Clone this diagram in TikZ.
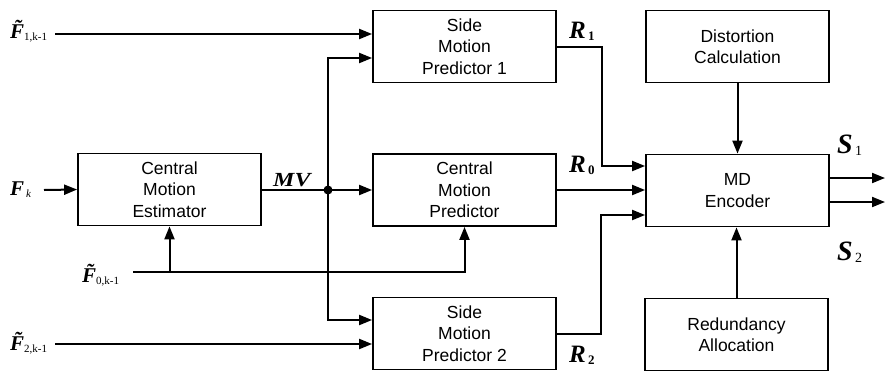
\documentclass[tikz,border=0pt]{standalone}
\usepackage{fontspec}
\setmainfont{Liberation Sans}
\newfontfamily\labfont{Liberation Serif}
\usetikzlibrary{arrows.meta,calc}
\newcommand{\flab}[2]{{\labfont\bfseries\itshape\fontsize{21bp}{21bp}\selectfont #1}\raisebox{-0.5ex}{\labfont\fontsize{11bp}{11bp}\selectfont #2}}
\newcommand{\rlab}[2]{{\labfont\bfseries\itshape\fontsize{25bp}{25bp}\selectfont #1}\raisebox{-0.4ex}{\labfont\bfseries\fontsize{13bp}{13bp}\selectfont #2}}
\newcommand{\slab}[2]{{\labfont\bfseries\itshape\fontsize{28bp}{28bp}\selectfont #1}\raisebox{-0.4ex}{\labfont\fontsize{14bp}{14bp}\selectfont\,#2}}
\begin{document}
\begin{tikzpicture}[x=1bp,y=-1bp,
  blk/.style={draw,line width=1.8bp,minimum width=183bp,minimum height=72bp,inner sep=0pt,align=center,font=\fontsize{17.5bp}{21.5bp}\selectfont},
  arr/.style={line width=2bp,-{Triangle[length=13bp,width=10bp]}},
  ln/.style={line width=2bp},
  lab/.style={inner sep=0pt,anchor=base west},
]
\useasboundingbox[fill=white] (0,0) rectangle (885,372);

% blocks
\node[blk] (side1) at (464.5,46.5) {Side\\Motion\\Predictor 1};
\node[blk] (cpred) at (464.5,190) {Central\\Motion\\Predictor};
\node[blk] (side2) at (464.5,333.5) {Side\\Motion\\Predictor 2};
\node[blk] (cest) at (169.5,189.5) {Central\\Motion\\Estimator};
\node[blk] (dist) at (737.5,46.5) {Distortion\\Calculation};
\node[blk] (mdenc) at (737.5,190.5) {MD\\Encoder};
\node[blk] (red) at (736.5,334.5) {Redundancy\\Allocation};

% free ends
\coordinate (f1) at (55,34);
\coordinate (fk) at (44,190);
\coordinate (f0) at (133,272);
\coordinate (f2) at (55,344);
\coordinate (j) at (328,190);
\coordinate (s1) at (885,178);
\coordinate (s2) at (885,202);

% labels
\node[lab] (lf1) at (10,38) {\flab{\~{F}}{1,k-1}};
\node[lab] (lfk) at (10,195) {\flab{F}{\,\itshape k}};
\node[lab] (lf0) at (82,282) {\flab{\~{F}}{0,k-1}};
\node[lab] (lf2) at (10,350) {\flab{\~{F}}{2,k-1}};
\node[lab,xscale=1.2] (lmv) at (273,186) {{\labfont\bfseries\itshape\fontsize{20bp}{20bp}\selectfont MV}};
\node[lab] (lr1) at (569,38) {\rlab{R}{\,1}};
\node[lab] (lr0) at (569,172) {\rlab{R}{\,0}};
\node[lab] (lr2) at (569,362) {\rlab{R}{\,2}};
\node[lab] (ls1) at (837,153) {\slab{S}{1}};
\node[lab] (ls2) at (837,260) {\slab{S}{2}};

% connectors
\draw[arr] (f1) -- (f1 -| side1.west);
\draw[arr] (fk) -- (cest.west);
\draw[ln] (cest.east |- j) -- (j);
\draw[arr] (j) -- (j -| cpred.west);
\draw[arr] (j) |- ($(side1.west)+(0,11.5)$);
\draw[arr] (j) |- ($(side2.west)+(0,-13.5)$);
\fill (j) circle (4.5bp);
\draw[arr] (f2) -- (f2 -| side2.west);
\draw[arr] (f0) -| (cpred.south);
\draw[arr] (f0 -| cest.south) -- (cest.south);
\draw[arr] (side1.east) -- ++(45,0) |- ($(mdenc.west)+(0,-24.5)$);
\draw[arr] (cpred.east) -- (cpred.east -| mdenc.west);
\draw[arr] (side2.east) -- ++(44,0) |- ($(mdenc.west)+(0,24.5)$);
\draw[arr] (dist.south) -- (dist.south |- mdenc.north);
\draw[arr] (red.north) -- (red.north |- mdenc.south);
\draw[arr] (mdenc.east |- s1) -- (s1);
\draw[arr] (mdenc.east |- s2) -- (s2);
\end{tikzpicture}
\end{document}
